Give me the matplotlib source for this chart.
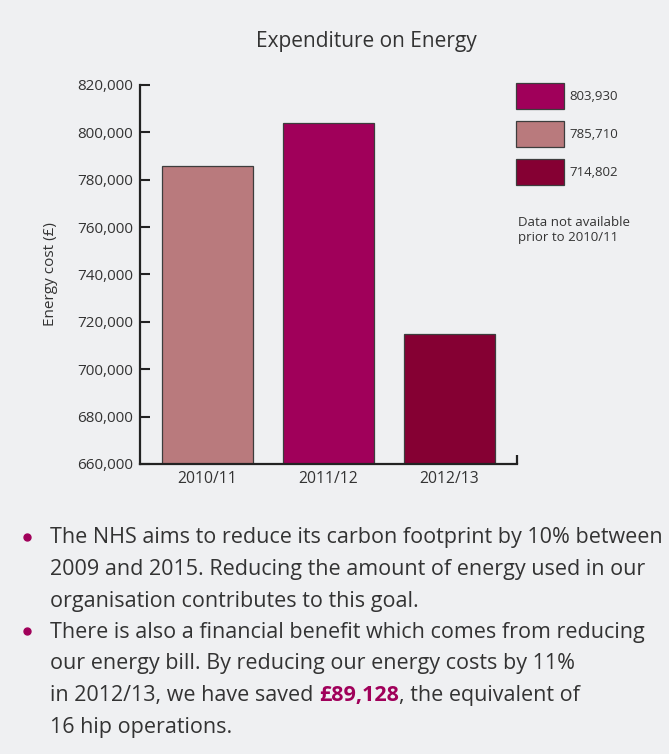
import matplotlib.pyplot as plt
from matplotlib.patches import Rectangle
from matplotlib.lines import Line2D
from matplotlib.ticker import FuncFormatter

years = ['2010/11', '2011/12', '2012/13']
costs = [785710, 803930, 714802]
colours = ['#b97a7d', '#a0005a', '#850033']
y_ticks = [660000, 680000, 700000, 720000, 740000, 760000, 780000, 800000, 820000]
saving = '£89,128'

bg = '#eff0f2'
txt = '#333333'
plt.rcParams['font.family'] = ['Open Sans', 'DejaVu Sans']

fig = plt.figure(figsize=(6.69, 7.54), dpi=100, facecolor=bg)
W, H = 669, 754

ax = fig.add_axes([140 / W, 1 - 464 / H, 377 / W, 379 / H], facecolor=bg)
x = range(len(years))
ax.bar(x, costs, width=0.752, color=colours, edgecolor='#3d3d3d', linewidth=0.9)
ax.set_xlim(-0.558, 2.558)
ax.set_ylim(y_ticks[0], y_ticks[-1])
ax.set_yticks(y_ticks)
ax.yaxis.set_major_formatter(FuncFormatter(lambda v, p: f'{int(v):,}'))
ax.set_xticks(list(x))
ax.set_xticklabels(years)
ax.tick_params(axis='y', direction='in', length=7, width=1.5, color='#222222',
               labelsize=11, labelcolor=txt, pad=5)
ax.tick_params(axis='x', length=0, labelsize=11.3, labelcolor=txt, pad=5)
for s in ['top', 'right']:
    ax.spines[s].set_visible(False)
for s in ['left', 'bottom']:
    ax.spines[s].set_linewidth(1.6)
    ax.spines[s].set_color('#222222')
ax.plot([1, 1], [0, 0.025], transform=ax.transAxes, color='#222222', lw=1.6,
        clip_on=False, solid_capstyle='butt')
ax.set_ylabel('Energy cost (£)', fontsize=11, color=txt, labelpad=14)

fig.text(366 / W, 1 - 42 / H, 'Expenditure on Energy', ha='center', va='center',
         fontsize=15, color=txt)

# legend boxes, largest value first
order = sorted(range(len(costs)), key=lambda i: -costs[i])
for k, i in enumerate(order):
    top = 83 + k * 38
    fig.add_artist(Rectangle((516 / W, 1 - (top + 26) / H), 48 / W, 26 / H,
                             transform=fig.transFigure, facecolor=colours[i],
                             edgecolor='#3d3d3d', linewidth=0.9))
    fig.text(569 / W, 1 - (top + 13) / H, f'{costs[i]:,}', va='center',
             fontsize=9.5, color=txt)
fig.text(518 / W, 1 - 230 / H, 'Data not available\nprior to 2010/11',
         va='center', fontsize=9.5, color=txt, linespacing=1.15)

# bullet text
lines = [
    'The NHS aims to reduce its carbon footprint by 10% between',
    '2009 and 2015. Reducing the amount of energy used in our',
    'organisation contributes to this goal.',
    'There is also a financial benefit which comes from reducing',
    'our energy bill. By reducing our energy costs by 11%',
    None,
    '16 hip operations.',
]
fs = 15.45
x0 = 50 / W
r = fig.canvas.get_renderer()
for j, line in enumerate(lines):
    yy = 1 - (538 + j * 31.5) / H
    if line is None:
        t1 = fig.text(x0, yy, 'in 2012/13, we have saved ', va='center',
                      fontsize=fs, color=txt)
        bb = t1.get_window_extent(r)
        t2 = fig.text(bb.x1 / fig.bbox.width, yy, saving, va='center',
                      fontsize=fs, color='#a0005a', fontweight='bold')
        bb = t2.get_window_extent(r)
        fig.text(bb.x1 / fig.bbox.width, yy, ', the equivalent of', va='center',
                 fontsize=fs, color=txt)
    else:
        fig.text(x0, yy, line, va='center', fontsize=fs, color=txt)
for j in [0, 3]:
    yb = 1 - (536.5 + j * 31.5) / H
    fig.add_artist(Line2D([27 / W], [yb], transform=fig.transFigure, marker='o',
                          markersize=5, color='#a0005a', linestyle='none'))

fig.savefig('out.png', dpi=100, facecolor=bg)
